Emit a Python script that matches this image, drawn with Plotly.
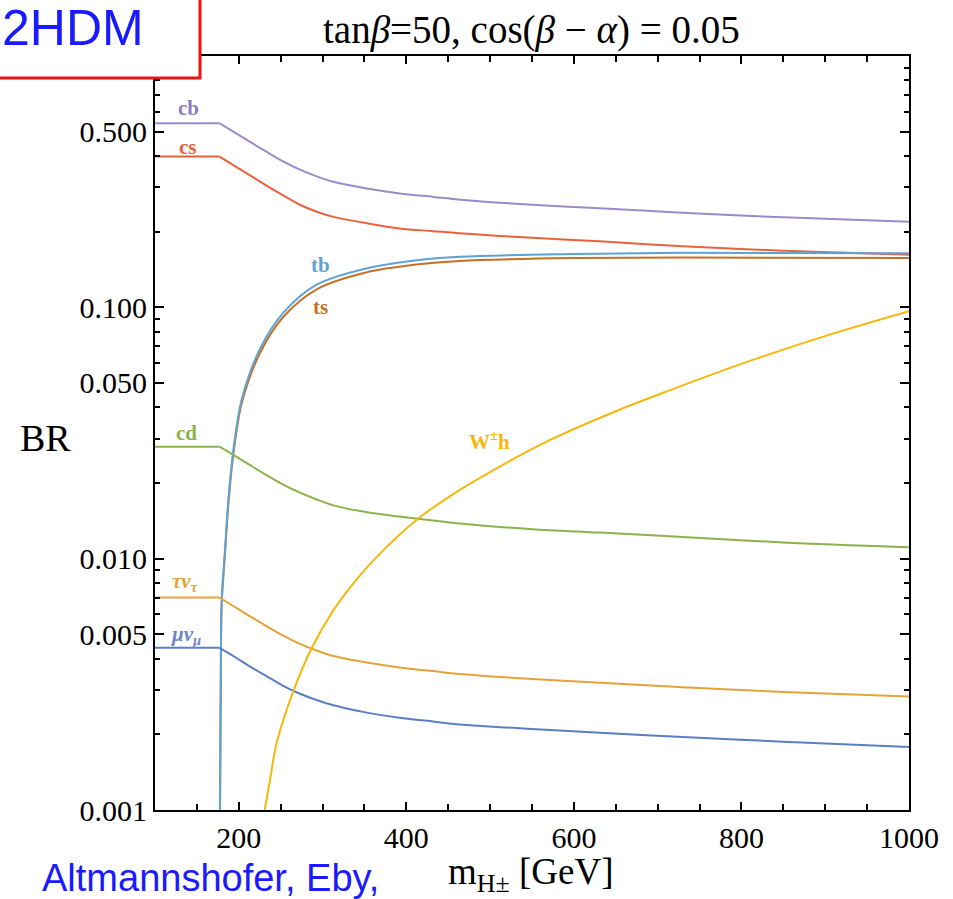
import math
import plotly.graph_objects as go

# ---------------- data ----------------
# charged-Higgs mass grid for the light-fermion channels (kink at the tb threshold)
m_light = [100, 177, 193.5, 213, 233, 253, 273, 293, 313, 353, 392, 432, 464, 550, 631, 730, 850, 1000]
br_cb = [0.54, 0.54, 0.50, 0.456, 0.416, 0.381, 0.353, 0.332, 0.316, 0.297, 0.284, 0.275, 0.268, 0.256, 0.248, 0.238, 0.228, 0.219]
br_cs = [0.398, 0.398, 0.368, 0.336, 0.305, 0.279, 0.256, 0.240, 0.229, 0.216, 0.206, 0.201, 0.197, 0.189, 0.183, 0.175, 0.168, 0.162]
br_cd = [0.0279, 0.0279, 0.0259, 0.0236, 0.0215, 0.0197, 0.0183, 0.0172, 0.0163, 0.0153, 0.0147, 0.0142, 0.0138, 0.0131, 0.0127, 0.0122, 0.0116, 0.0111]
br_tau = [0.0070, 0.0070, 0.00648, 0.00591, 0.00539, 0.00494, 0.00458, 0.00431, 0.0041, 0.00386, 0.00369, 0.00357, 0.00348, 0.00332, 0.00321, 0.00308, 0.00295, 0.00283]
br_mu = [0.00442, 0.00442, 0.0041, 0.00373, 0.00341, 0.00312, 0.0029, 0.00274, 0.00261, 0.00244, 0.00233, 0.00225, 0.00219, 0.0021, 0.00203, 0.00195, 0.00187, 0.00178]

m_top = [177.3, 177.6, 178.0, 178.5, 179.6, 183.5, 187.5, 193.5, 203.5, 225, 253, 293, 353, 412, 464, 600, 730, 1000]
br_tb = [0.0008, 0.001, 0.0018, 0.0032, 0.0068, 0.0108, 0.017, 0.027, 0.043, 0.068, 0.095, 0.123, 0.143, 0.154, 0.159, 0.163, 0.165, 0.164]
br_ts = [0.0008, 0.00097, 0.0017, 0.0031, 0.0066, 0.0104, 0.0164, 0.026, 0.0415, 0.0655, 0.0915, 0.118, 0.138, 0.148, 0.153, 0.157, 0.158, 0.157]

m_wh = [231, 238, 245, 265, 287, 313, 337, 361, 412, 462, 512, 571, 650, 711, 810, 909, 1000]
br_wh = [0.001, 0.00136, 0.00184, 0.00296, 0.0044, 0.00624, 0.0080, 0.00987, 0.01425, 0.0186, 0.0233, 0.0296, 0.0386, 0.0463, 0.0612, 0.0786, 0.0966]

y_tickvals = [0.001, 0.005, 0.01, 0.05, 0.1, 0.5]
y_ticktext = ["0.001", "0.005", "0.010", "0.050", "0.100", "0.500"]
x_tickvals = [200, 400, 600, 800, 1000]
x_ticktext = ["200", "400", "600", "800", "1000"]

# ---------------- figure ----------------
W, H = 953, 899
L, R, T, B = 155, 44, 56, 89
PW, PH = W - L - R, H - T - B


def px(xp):
    return (xp - L) / PW


def py(yp):
    return (H - B - yp) / PH


# (name, x, y, colour, has flat low-mass plateau)
series = [
    ("cb", m_light, br_cb, "#9a8ccb", True),
    ("cs", m_light, br_cs, "#e8623e", True),
    ("ts", m_top, br_ts, "#c47026", False),
    ("tb", m_top, br_tb, "#5ea3d5", False),
    ("cd", m_light, br_cd, "#8cb24d", True),
    ("tau", m_light, br_tau, "#e4a339", True),
    ("mu", m_light, br_mu, "#5a7ec3", True),
    ("Wh", m_wh, br_wh, "#f6b70c", False),
]

fig = go.Figure()
for name, xs, ys, col, flat in series:
    if flat:
        fig.add_trace(go.Scatter(x=xs[:2], y=ys[:2], mode="lines", name=name,
                                 line=dict(color=col, width=2), showlegend=False))
        fig.add_trace(go.Scatter(x=xs[1:], y=ys[1:], mode="lines", name=name,
                                 line=dict(color=col, width=2, shape="spline", smoothing=0.9),
                                 showlegend=False))
    else:
        fig.add_trace(go.Scatter(x=xs, y=ys, mode="lines", name=name,
                                 line=dict(color=col, width=2, shape="spline", smoothing=0.9),
                                 showlegend=False))

serif = "Liberation Serif"
minor_y = []
for d in [0.001, 0.01, 0.1]:
    for k in range(2, 10):
        v = d * k
        if v not in y_tickvals and v <= 1.0:
            minor_y.append(v)
minor_y.append(1.0)

fig.update_layout(
    width=W, height=H,
    margin=dict(l=L, r=R, t=T, b=B, pad=0),
    paper_bgcolor="white", plot_bgcolor="white",
    xaxis=dict(range=[100, 1000], tickmode="array", tickvals=x_tickvals, ticktext=x_ticktext,
               ticks="inside", ticklen=8, tickwidth=1.5, tickcolor="black",
               showline=True, linecolor="black", linewidth=2, mirror="allticks",
               showgrid=False, zeroline=False,
               tickfont=dict(family=serif, size=30, color="black"),
               minor=dict(tickmode="array", tickvals=[100, 150, 250, 300, 350, 450, 500, 550, 650, 700, 750, 850, 900, 950],
                          ticks="inside", ticklen=6, tickwidth=1.5, tickcolor="black", showgrid=False)),
    yaxis=dict(type="log", range=[-3, 0], tickmode="array", tickvals=y_tickvals, ticktext=y_ticktext,
               ticks="inside", ticklen=9, tickwidth=1.5, tickcolor="black",
               showline=True, linecolor="black", linewidth=2, mirror="allticks",
               showgrid=False, zeroline=False,
               tickfont=dict(family=serif, size=30, color="black"),
               minor=dict(tickmode="array", tickvals=minor_y,
                          ticks="inside", ticklen=5, tickwidth=1.5, tickcolor="black", showgrid=False)),
)

ann = []
labels = [
    ("cb", 139.5, 0.621, "#8b7fc0"),
    ("cs", 139.5, 0.434, "#e8623e"),
    ("tb", 298, 10 ** -0.832, "#5ea3d5"),
    ("ts", 298, 10 ** -0.999, "#c47026"),
    ("cd", 138, 10 ** -1.50, "#8cb24d"),
    ("<i>τν<sub>τ</sub></i>", 136, 10 ** -2.093, "#e4a339"),
    ("<i>μν<sub>μ</sub></i>", 137, 10 ** -2.304, "#6d86c8"),
    ("W<sup>±</sup>h", 499, 10 ** -1.528, "#f6b70c"),
]
for txt, xv, yv, col in labels:
    ann.append(dict(x=xv, y=math.log10(yv), xref="x", yref="y", text="<b>" + txt + "</b>",
                    showarrow=False, font=dict(family=serif, size=21, color=col),
                    xanchor="center", yanchor="middle"))

ann.append(dict(x=px(18), y=py(438), xref="paper", yref="paper", text="BR", showarrow=False,
                font=dict(family=serif, size=38, color="black"), xanchor="left", yanchor="middle"))
ann.append(dict(x=px(531), y=py(30), xref="paper", yref="paper",
                text="tan<i>β</i>=50, cos(<i>β</i> − <i>α</i>) = 0.05", showarrow=False,
                font=dict(family=serif, size=39, color="black"), xanchor="center", yanchor="middle"))
ann.append(dict(x=px(530), y=py(874), xref="paper", yref="paper",
                text="m<sub>H±</sub> [GeV]", showarrow=False,
                font=dict(family=serif, size=37, color="black"), xanchor="center", yanchor="middle"))
ann.append(dict(x=px(40), y=py(878), xref="paper", yref="paper",
                text="Altmannshofer, Eby,", showarrow=False,
                font=dict(family="Liberation Sans", size=38, color="#1a1aff"), xanchor="left", yanchor="middle"))
ann.append(dict(x=px(0), y=py(28), xref="paper", yref="paper",
                text="2HDM", showarrow=False,
                font=dict(family="Liberation Sans", size=50, color="#1a1aff"), xanchor="left", yanchor="middle"))
fig.update_layout(annotations=ann)

fig.add_shape(type="rect", xref="paper", yref="paper",
              x0=px(-20), x1=px(200), y0=py(78), y1=py(-20),
              line=dict(color="#ee1111", width=3), fillcolor="white", layer="above")

fig.write_html("out.html")
